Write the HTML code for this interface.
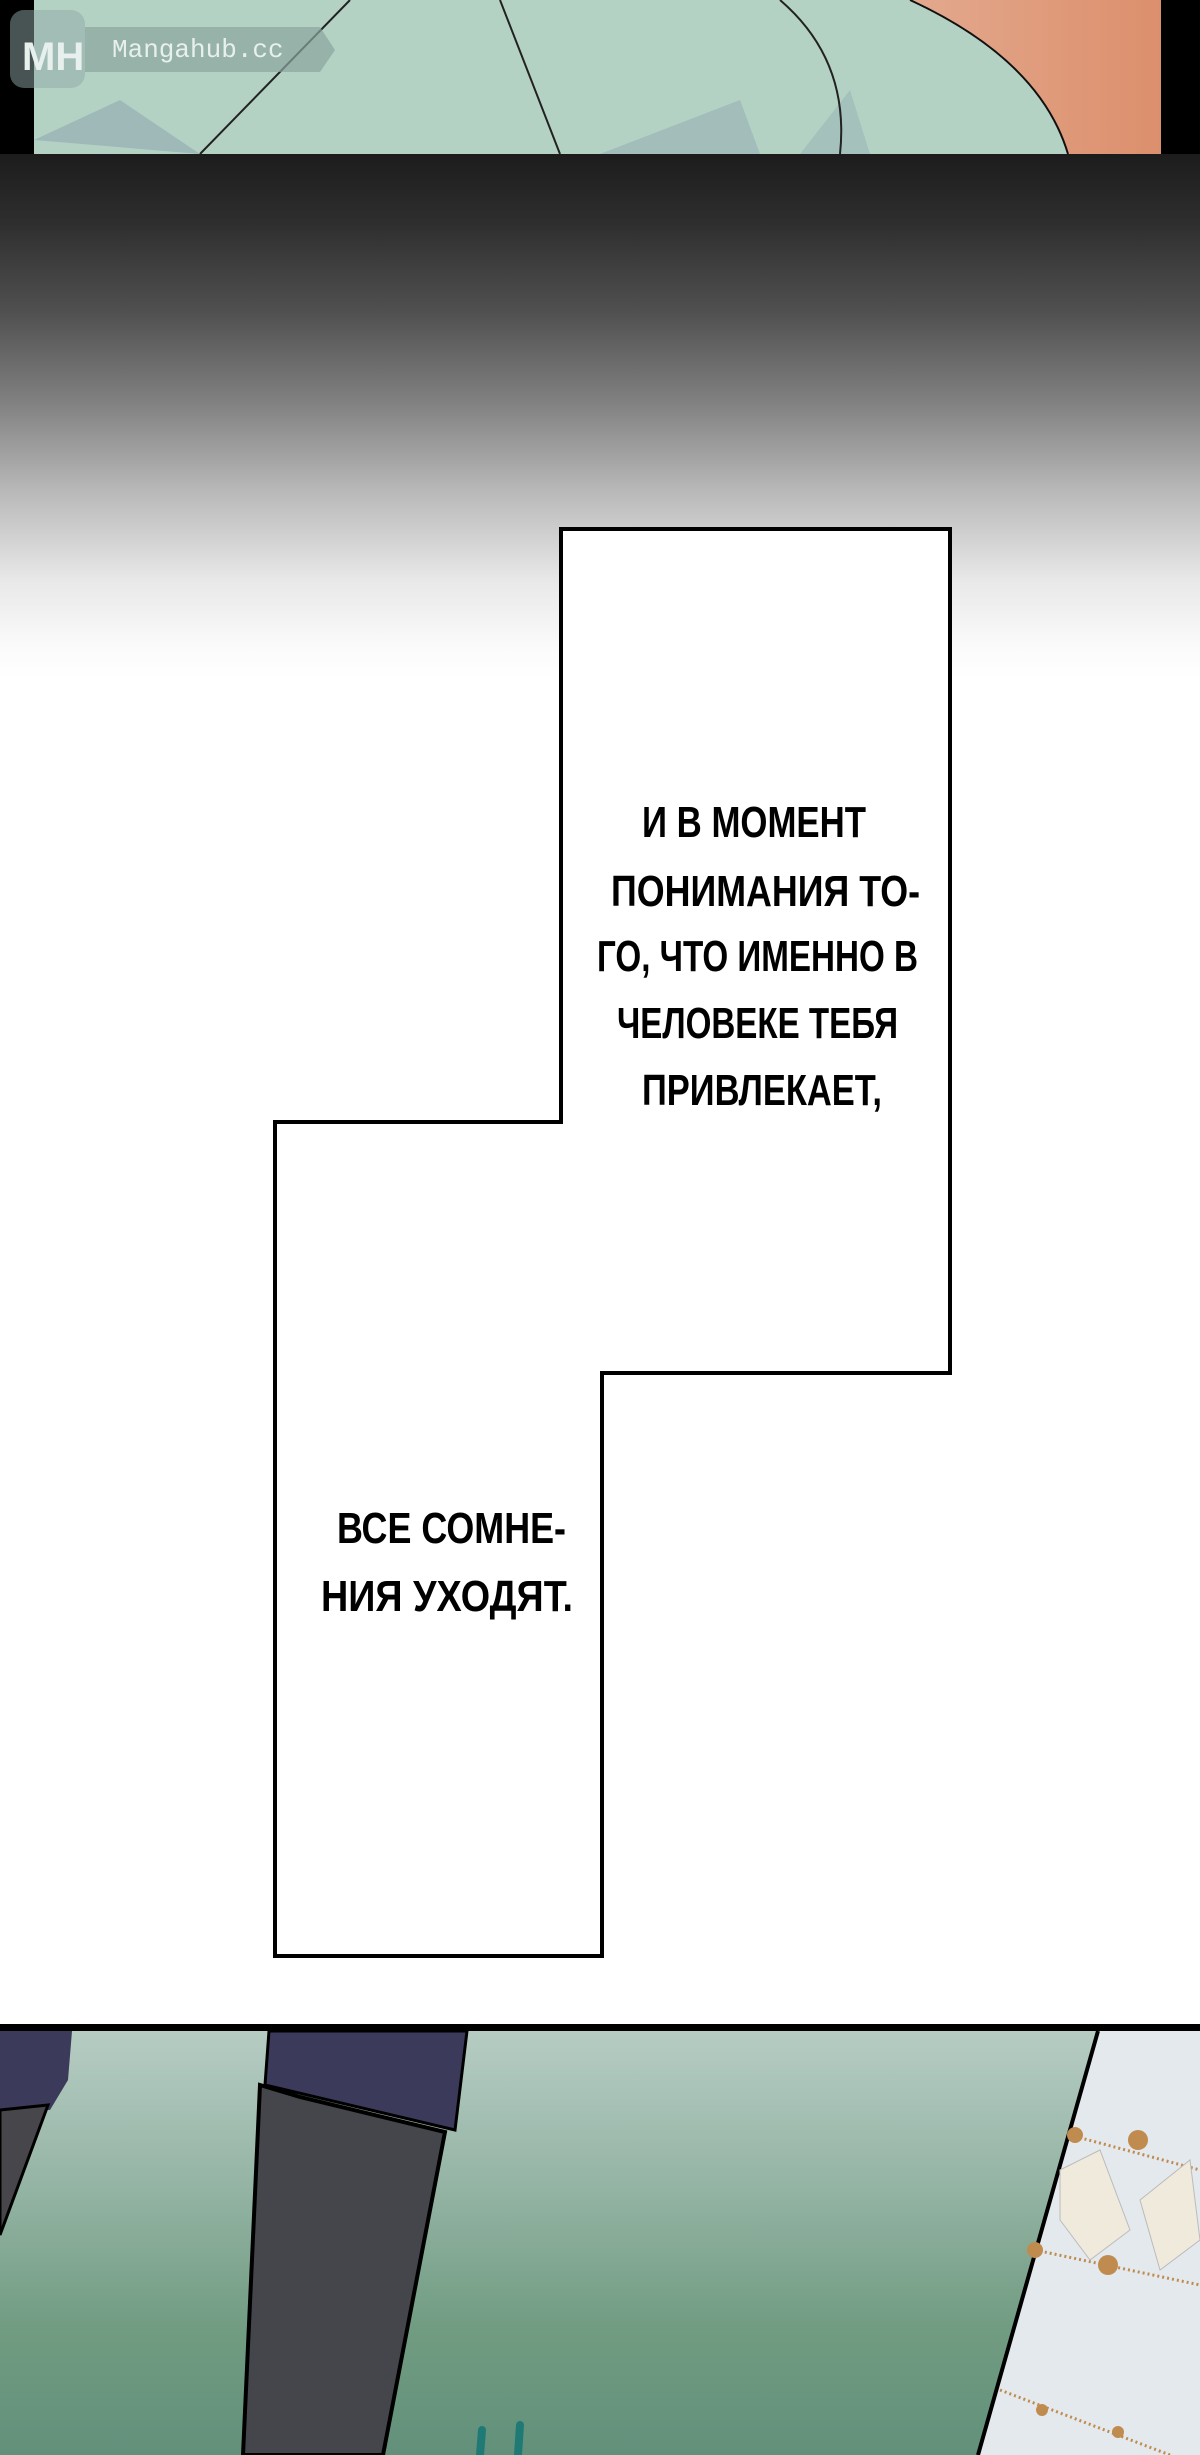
<!DOCTYPE html>
<html><head><meta charset="utf-8"><style>
html,body{margin:0;padding:0;background:#fff;}
svg{display:block;}
text{font-family:"Liberation Sans",sans-serif;font-weight:bold;fill:#000;}
</style></head><body>
<svg width="1200" height="2455" viewBox="0 0 1200 2455" xmlns="http://www.w3.org/2000/svg">
<defs>
<linearGradient id="fade" gradientUnits="userSpaceOnUse" x1="0" y1="154" x2="0" y2="680">
<stop offset="0" stop-color="#1c1c1c"/>
<stop offset="0.13" stop-color="#2e2e2e"/>
<stop offset="0.30" stop-color="#505050"/>
<stop offset="0.47" stop-color="#808080"/>
<stop offset="0.64" stop-color="#b8b8b8"/>
<stop offset="0.81" stop-color="#e8e8e8"/>
<stop offset="0.94" stop-color="#fbfbfb"/>
<stop offset="1" stop-color="#fff"/>
</linearGradient>
<linearGradient id="grass" x1="0" y1="0" x2="0" y2="1">
<stop offset="0" stop-color="#b6ccc3"/>
<stop offset="0.35" stop-color="#96b5a6"/>
<stop offset="0.7" stop-color="#719c82"/>
<stop offset="1" stop-color="#62907a"/>
</linearGradient>
<linearGradient id="orange" x1="0" y1="0" x2="1" y2="0">
<stop offset="0" stop-color="#e3a98e"/>
<stop offset="1" stop-color="#dc8f6c"/>
</linearGradient>
</defs>
<rect x="0" y="154" width="1200" height="526" fill="url(#fade)"/>
<rect x="0" y="0" width="1200" height="154" fill="#000"/>
<rect x="34" y="0" width="1127" height="154" fill="#b4d2c4"/>
<path d="M910 0 Q1040 60 1068 154 L1161 154 L1161 0 Z" fill="url(#orange)"/>
<path d="M910 0 Q1040 60 1068 154" fill="none" stroke="#111" stroke-width="2"/>
<path d="M34 140 L120 100 L200 154 Z" fill="#8fa8b0" opacity="0.6"/>
<path d="M600 154 L740 100 L760 154 Z" fill="#8fa8b0" opacity="0.5"/>
<path d="M800 154 L850 90 L870 154 Z" fill="#8fa8b0" opacity="0.4"/>
<path d="M350 0 L200 154 M500 0 L560 154 M780 0 Q850 60 840 154" stroke="#222" stroke-width="2" fill="none"/>
<rect x="10" y="10" width="75" height="78" rx="14" fill="#90a8a8" opacity="0.5"/>
<path d="M85 27 L320 27 L335 50 L320 72 L85 72 Z" fill="#8aa49e" opacity="0.7"/>
<text x="112" y="57" font-size="26" style="font-family:'Liberation Mono',monospace;font-weight:normal;fill:#e8f0ee">Mangahub.cc</text>
<text x="22" y="70" font-size="40" style="fill:#e8f0ee">MH</text>
<path d="M561 529 L950 529 L950 1373 L602 1373 L602 1956 L275 1956 L275 1122 L561 1122 Z" fill="#fff" stroke="#000" stroke-width="4"/>
<g font-size="44">
<text x="642" y="837" textLength="224" lengthAdjust="spacingAndGlyphs">И В МОМЕНТ</text>
<text x="611" y="906" textLength="309" lengthAdjust="spacingAndGlyphs">ПОНИМАНИЯ ТО-</text>
<text x="597" y="971" textLength="321" lengthAdjust="spacingAndGlyphs">ГО, ЧТО ИМЕННО В</text>
<text x="617" y="1038" textLength="281" lengthAdjust="spacingAndGlyphs">ЧЕЛОВЕКЕ ТЕБЯ</text>
<text x="642" y="1105" textLength="240" lengthAdjust="spacingAndGlyphs">ПРИВЛЕКАЕТ,</text>
<text x="337" y="1543" textLength="229" lengthAdjust="spacingAndGlyphs">ВСЕ СОМНЕ-</text>
<text x="321" y="1611" textLength="252" lengthAdjust="spacingAndGlyphs">НИЯ УХОДЯТ.</text>
</g>
<rect x="0" y="2031" width="1200" height="424" fill="url(#grass)"/>
<path d="M1098 2031 L1200 2031 L1200 2455 L978 2455 Z" fill="#e4e9ee"/>
<path d="M1098 2031 L978 2455" stroke="#000" stroke-width="4"/>
<g fill="#c08b4e">
<circle cx="1075" cy="2135" r="8"/><circle cx="1138" cy="2140" r="10"/><circle cx="1035" cy="2250" r="8"/><circle cx="1108" cy="2265" r="10"/><circle cx="1042" cy="2410" r="6"/><circle cx="1118" cy="2432" r="6"/>
</g>
<path d="M1070 2135 L1200 2170 M1035 2250 L1200 2285 M1000 2390 L1170 2455" stroke="#c08b4e" stroke-width="3" stroke-dasharray="2 3"/>
<path d="M1060 2170 L1100 2150 L1130 2230 L1090 2260 L1060 2220 Z M1140 2200 L1190 2160 L1200 2240 L1160 2270 Z" fill="#efeadc" stroke="#bbb" stroke-width="1"/>
<path d="M0 2031 L72 2031 L68 2080 L50 2110 L0 2110 Z" fill="#3c3a5a"/>
<path d="M0 2110 L48 2105 L0 2235 Z" fill="#47474b" stroke="#000" stroke-width="3"/>
<path d="M269 2031 L467 2031 L455 2130 L265 2085 Z" fill="#3c3a5a" stroke="#000" stroke-width="3"/>
<path d="M260 2085 L300 2097 L445 2132 L383 2455 L243 2455 Z" fill="#45464b" stroke="#000" stroke-width="4"/>
<path d="M482 2430 L480 2455 M520 2425 L518 2455" stroke="#1f7a76" stroke-width="8" stroke-linecap="round"/>
<rect x="0" y="2024" width="1200" height="7" fill="#000"/>
</svg>
</body></html>
